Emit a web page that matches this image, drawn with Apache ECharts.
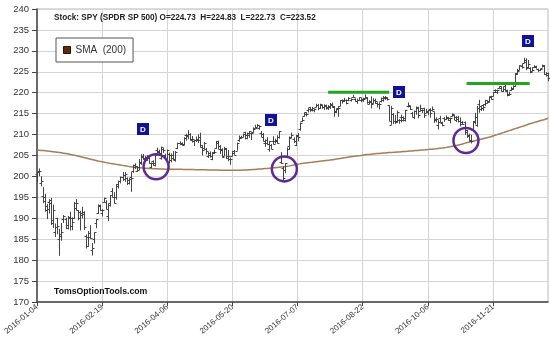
<!DOCTYPE html>
<html><head><meta charset="utf-8">
<script src="https://cdn.jsdelivr.net/npm/echarts@6/dist/echarts.min.js"></script>
<style>html,body{margin:0;padding:0;background:#fff}#c{width:550px;height:338px}</style>
</head><body><div id="c"></div>
<script>
const dates = [
"2016-01-04","2016-01-05","2016-01-06","2016-01-07","2016-01-08","2016-01-11","2016-01-12","2016-01-13","2016-01-14","2016-01-15","2016-01-19","2016-01-20","2016-01-21","2016-01-22","2016-01-25","2016-01-26","2016-01-27","2016-01-28","2016-01-29",
"2016-02-01","2016-02-02","2016-02-03","2016-02-04","2016-02-05","2016-02-08","2016-02-09","2016-02-10","2016-02-11","2016-02-12","2016-02-16","2016-02-17","2016-02-18","2016-02-19","2016-02-22","2016-02-23","2016-02-24","2016-02-25","2016-02-26","2016-02-29",
"2016-03-01","2016-03-02","2016-03-03","2016-03-04","2016-03-07","2016-03-08","2016-03-09","2016-03-10","2016-03-11","2016-03-14","2016-03-15","2016-03-16","2016-03-17","2016-03-18","2016-03-21","2016-03-22","2016-03-23","2016-03-24","2016-03-28","2016-03-29","2016-03-30","2016-03-31",
"2016-04-01","2016-04-04","2016-04-05","2016-04-06","2016-04-07","2016-04-08","2016-04-11","2016-04-12","2016-04-13","2016-04-14","2016-04-15","2016-04-18","2016-04-19","2016-04-20","2016-04-21","2016-04-22","2016-04-25","2016-04-26","2016-04-27","2016-04-28","2016-04-29",
"2016-05-02","2016-05-03","2016-05-04","2016-05-05","2016-05-06","2016-05-09","2016-05-10","2016-05-11","2016-05-12","2016-05-13","2016-05-16","2016-05-17","2016-05-18","2016-05-19","2016-05-20","2016-05-23","2016-05-24","2016-05-25","2016-05-26","2016-05-27","2016-05-31",
"2016-06-01","2016-06-02","2016-06-03","2016-06-06","2016-06-07","2016-06-08","2016-06-09","2016-06-10","2016-06-13","2016-06-14","2016-06-15","2016-06-16","2016-06-17","2016-06-20","2016-06-21","2016-06-22","2016-06-23","2016-06-24","2016-06-27","2016-06-28","2016-06-29","2016-06-30",
"2016-07-01","2016-07-05","2016-07-06","2016-07-07","2016-07-08","2016-07-11","2016-07-12","2016-07-13","2016-07-14","2016-07-15","2016-07-18","2016-07-19","2016-07-20","2016-07-21","2016-07-22","2016-07-25","2016-07-26","2016-07-27","2016-07-28","2016-07-29",
"2016-08-01","2016-08-02","2016-08-03","2016-08-04","2016-08-05","2016-08-08","2016-08-09","2016-08-10","2016-08-11","2016-08-12","2016-08-15","2016-08-16","2016-08-17","2016-08-18","2016-08-19","2016-08-22","2016-08-23","2016-08-24","2016-08-25","2016-08-26","2016-08-29","2016-08-30","2016-08-31",
"2016-09-01","2016-09-02","2016-09-06","2016-09-07","2016-09-08","2016-09-09","2016-09-12","2016-09-13","2016-09-14","2016-09-15","2016-09-16","2016-09-19","2016-09-20","2016-09-21","2016-09-22","2016-09-23","2016-09-26","2016-09-27","2016-09-28","2016-09-29","2016-09-30",
"2016-10-03","2016-10-04","2016-10-05","2016-10-06","2016-10-07","2016-10-10","2016-10-11","2016-10-12","2016-10-13","2016-10-14","2016-10-17","2016-10-18","2016-10-19","2016-10-20","2016-10-21","2016-10-24","2016-10-25","2016-10-26","2016-10-27","2016-10-28","2016-10-31",
"2016-11-01","2016-11-02","2016-11-03","2016-11-04","2016-11-07","2016-11-08","2016-11-09","2016-11-10","2016-11-11","2016-11-14","2016-11-15","2016-11-16","2016-11-17","2016-11-18","2016-11-21","2016-11-22","2016-11-23","2016-11-25","2016-11-28","2016-11-29","2016-11-30",
"2016-12-01","2016-12-02","2016-12-05","2016-12-06","2016-12-07","2016-12-08","2016-12-09","2016-12-12","2016-12-13","2016-12-14","2016-12-15","2016-12-16","2016-12-19","2016-12-20","2016-12-21","2016-12-22","2016-12-23","2016-12-27","2016-12-28","2016-12-29","2016-12-30"];

const opens = [
200.49,201.40,198.34,195.33,195.19,193.01,193.82,194.45,189.55,186.77,189.96,185.03,186.21,189.78,189.92,188.42,190.02,189.96,190.02,
192.53,191.96,191.41,190.71,190.99,185.77,183.36,186.41,182.34,184.96,188.77,191.16,193.20,191.17,193.87,194.00,190.63,193.73,196.57,195.11,
195.01,197.61,198.97,199.97,199.40,199.72,199.03,199.93,201.26,202.20,201.41,201.60,203.11,204.89,204.07,203.99,204.46,202.24,203.60,202.76,206.30,205.91,
204.35,206.64,205.06,204.26,205.38,205.15,205.17,204.23,206.79,207.92,207.81,207.51,209.87,209.68,210.09,208.78,208.37,208.82,208.69,208.73,206.98,
206.90,206.52,205.00,205.57,204.06,205.57,206.72,207.91,207.28,206.21,204.96,206.46,204.44,204.06,204.92,205.99,206.17,208.67,209.44,209.48,210.56,
209.12,209.92,210.30,210.56,211.52,211.91,211.51,210.49,209.36,208.02,208.61,206.55,207.61,208.54,208.42,208.65,209.41,203.43,201.97,201.48,204.67,207.17,
209.28,208.98,207.56,209.83,211.36,213.17,214.38,215.34,215.94,216.52,215.99,215.94,216.69,217.09,216.40,217.01,216.60,217.04,216.42,216.51,
217.19,216.65,215.48,216.31,216.89,218.26,218.20,218.32,218.26,218.31,218.87,218.61,218.09,218.34,218.31,218.27,218.85,218.80,217.40,217.92,217.44,218.26,217.61,
217.37,218.00,218.70,218.84,218.62,216.97,212.39,214.84,213.29,212.96,213.48,214.22,214.11,213.94,216.82,216.72,215.09,214.22,215.65,216.42,215.65,
215.82,216.23,215.23,215.45,216.07,215.87,215.52,213.67,212.40,214.06,212.87,214.06,213.74,214.04,213.41,214.54,214.68,213.51,214.16,213.35,212.93,
212.93,210.66,209.98,208.46,210.98,213.00,212.37,217.30,216.13,216.96,217.28,217.56,218.05,219.13,219.23,220.64,220.11,221.10,221.16,220.52,221.63,
220.73,219.67,220.65,221.22,221.52,224.57,225.41,226.40,227.02,227.41,226.16,226.01,225.25,226.15,226.25,225.60,225.43,226.02,226.57,224.48,224.73];

const highs = [
201.03,201.90,200.06,197.44,195.85,193.41,194.55,194.86,193.26,188.76,190.11,187.50,188.87,190.76,190.15,190.53,191.56,190.20,193.88,
194.58,191.97,191.78,192.75,191.67,186.12,186.94,188.34,184.10,186.65,189.81,193.32,193.27,192.18,194.95,194.32,193.53,195.55,197.22,196.23,
198.21,199.00,200.00,201.07,201.08,199.78,199.58,201.05,202.80,203.13,202.47,204.14,205.30,205.35,204.95,205.09,204.60,203.36,203.86,205.25,206.87,206.41,
207.14,206.84,205.42,206.43,205.70,205.48,206.04,206.06,208.06,208.36,208.13,209.39,210.20,211.05,210.32,209.65,208.75,209.53,210.06,210.45,207.44,
208.19,206.80,205.85,205.98,205.77,206.40,208.50,208.54,207.49,206.72,207.06,206.80,206.30,204.54,206.10,206.30,208.09,209.77,209.71,210.25,210.69,
210.48,210.86,210.52,211.73,212.34,212.52,212.21,210.86,210.37,208.87,209.36,208.49,207.75,209.60,208.99,209.83,210.87,205.80,202.40,203.22,206.93,209.55,
210.49,209.33,209.91,210.33,212.89,214.07,215.30,215.35,216.34,216.60,216.62,216.26,217.37,217.31,217.36,217.07,217.23,217.15,217.03,217.54,
217.65,216.83,216.25,216.78,218.23,218.40,218.76,218.40,218.94,218.66,219.50,218.68,218.59,218.90,218.75,218.80,219.60,218.91,218.19,219.12,218.67,218.59,217.75,
217.73,218.87,219.22,219.22,218.94,217.03,216.81,215.15,214.70,215.73,213.69,214.76,214.34,215.93,217.67,216.88,215.42,215.77,216.70,216.64,217.12,
216.03,216.41,216.14,215.85,216.30,216.72,215.53,214.13,213.45,214.45,213.04,214.17,214.56,214.20,214.07,215.07,214.76,214.40,214.48,214.11,213.24,
213.12,211.10,210.23,209.95,213.19,215.18,216.85,218.31,216.88,217.27,218.28,218.14,219.04,219.27,220.19,220.81,220.71,221.56,221.48,221.44,221.82,
220.73,220.25,221.40,221.74,224.67,225.70,226.53,226.96,228.34,228.23,227.81,226.08,226.02,226.57,226.45,225.74,225.72,226.73,226.59,224.89,224.83];

const lows = [
198.59,200.05,197.60,193.59,191.58,189.82,191.14,188.38,187.66,185.52,186.20,181.02,184.64,188.88,187.41,187.34,187.06,187.16,189.88,
191.84,189.54,187.10,189.96,187.20,182.80,183.20,185.12,181.09,183.96,187.63,191.01,191.72,190.45,193.79,192.18,189.32,192.83,195.09,193.56,
194.45,197.09,198.35,198.91,198.70,197.94,198.09,196.32,200.85,201.73,201.06,201.53,202.78,203.98,203.85,203.71,203.01,201.95,202.59,202.40,205.59,205.33,
203.98,205.60,203.90,203.83,203.07,203.35,203.91,203.55,206.52,207.44,207.35,207.46,208.54,208.88,208.53,208.09,207.26,208.21,208.00,206.91,205.02,
206.41,205.28,204.42,204.47,203.88,205.36,206.64,206.50,205.37,204.49,204.89,204.23,203.63,202.78,204.86,205.17,206.14,208.27,208.97,209.35,208.86,
208.89,209.24,208.70,210.45,211.50,211.75,211.17,209.43,208.35,207.06,207.53,205.91,206.50,207.66,207.84,207.87,209.06,202.96,198.65,200.77,204.55,206.34,
209.15,207.97,207.23,208.39,210.90,213.00,214.31,214.33,215.29,215.44,215.53,215.33,216.45,215.84,216.08,216.15,215.88,215.95,215.89,216.13,
216.41,214.25,215.13,214.25,216.78,217.42,217.80,217.23,217.95,217.88,218.88,217.96,217.35,218.21,217.74,217.83,218.60,217.36,217.22,216.25,217.40,217.35,216.47,
216.03,217.70,217.87,218.30,218.15,213.25,212.31,212.50,212.50,212.75,212.57,212.90,213.13,213.12,216.47,215.88,214.23,213.69,214.76,213.88,215.51,
215.14,213.97,215.12,214.63,214.04,215.72,212.78,212.91,211.21,212.97,211.99,213.03,213.51,213.24,212.71,214.27,213.48,212.99,212.88,211.94,212.44,
209.90,209.23,208.42,207.89,210.73,212.43,211.86,215.22,215.64,215.72,216.80,217.42,217.67,218.38,219.13,219.91,219.71,221.01,220.36,220.17,220.31,
219.15,219.26,220.42,220.66,221.38,224.26,225.37,225.76,227.00,225.37,225.89,224.67,225.08,225.88,225.77,224.92,225.21,226.00,224.27,223.84,222.73];

const closes = [
201.02,201.36,198.82,194.05,191.92,192.11,193.66,188.83,191.93,187.81,188.06,185.65,186.69,190.52,187.64,190.20,188.13,189.11,193.72,
193.65,190.16,191.30,191.60,187.95,185.42,185.43,185.27,182.86,186.63,189.78,192.88,192.09,192.00,194.78,192.32,193.20,195.54,195.09,193.56,
198.11,199.00,199.78,200.43,200.59,198.40,199.38,199.54,202.76,202.50,202.17,203.34,204.63,204.38,204.67,204.56,203.21,203.12,203.24,205.12,206.02,205.52,
206.92,206.25,204.19,206.42,203.95,204.50,204.02,205.92,208.00,208.01,207.78,209.24,209.90,210.10,208.97,208.97,208.61,208.92,209.35,207.45,206.33,
207.97,206.16,205.01,204.97,205.72,205.89,208.45,206.50,206.56,204.76,206.78,204.85,204.91,204.20,205.49,205.21,207.87,209.28,209.34,210.24,209.84,
210.27,210.91,210.28,211.35,211.68,212.37,212.08,210.07,208.45,208.04,207.75,208.37,206.52,207.85,208.44,208.10,210.81,203.24,199.60,203.20,206.66,209.48,
209.92,208.41,209.66,209.53,212.65,213.40,214.95,214.92,216.12,215.83,216.41,216.19,217.09,216.27,217.24,216.65,216.75,216.52,216.77,217.12,
216.94,215.55,216.18,216.41,218.18,218.05,218.18,217.64,218.65,218.46,219.09,217.96,218.37,218.86,218.54,218.53,218.97,217.85,217.70,217.29,218.36,218.00,217.38,
217.39,218.37,219.03,219.01,218.51,213.28,216.34,213.23,213.15,215.28,213.37,213.41,213.42,215.82,217.18,215.99,214.24,215.57,216.64,214.68,216.30,
215.78,214.68,215.63,215.78,215.04,216.16,213.43,213.71,213.01,213.12,212.38,213.71,214.28,213.88,213.98,214.89,214.17,213.74,213.17,212.54,212.55,
211.01,209.74,208.78,208.55,213.15,214.11,216.38,216.92,216.42,216.59,218.28,217.87,218.99,218.50,220.15,220.58,220.70,221.52,220.48,220.91,220.38,
219.57,219.68,221.00,221.70,224.60,225.15,226.51,226.25,227.76,225.88,226.81,225.04,225.53,226.40,225.77,225.38,225.71,226.27,224.40,224.35,223.52];

const sma200 = [
206.30,206.26,206.22,206.18,206.14,206.10,206.04,205.98,205.92,205.86,
205.80,205.72,205.64,205.56,205.48,205.40,205.30,205.20,205.10,205.00,
204.90,204.78,204.66,204.54,204.42,204.30,204.18,204.06,203.94,203.82,
203.70,203.60,203.50,203.40,203.30,203.20,203.12,203.04,202.96,202.88,
202.80,202.72,202.64,202.56,202.48,202.40,202.34,202.28,202.22,202.16,
202.10,202.06,202.02,201.98,201.94,201.90,201.88,201.86,201.84,201.82,
201.80,201.78,201.76,201.74,201.72,201.70,201.70,201.70,201.70,201.70,
201.70,201.69,201.68,201.67,201.66,201.65,201.64,201.63,201.62,201.61,
201.60,201.59,201.58,201.57,201.56,201.55,201.54,201.53,201.52,201.51,
201.50,201.50,201.50,201.50,201.50,201.50,201.50,201.50,201.50,201.50,
201.50,201.52,201.54,201.56,201.58,201.60,201.64,201.68,201.72,201.76,
201.80,201.84,201.88,201.92,201.96,202.00,202.05,202.10,202.15,202.20,
202.25,202.30,202.37,202.45,202.52,202.60,202.70,202.80,202.90,203.00,
203.07,203.14,203.21,203.28,203.35,203.40,203.46,203.52,203.58,203.64,
203.70,203.75,203.80,203.85,203.90,203.98,204.06,204.14,204.22,204.30,
204.38,204.46,204.54,204.62,204.70,204.76,204.82,204.88,204.94,205.00,
205.08,205.16,205.22,205.26,205.30,205.35,205.40,205.45,205.50,205.55,
205.59,205.62,205.66,205.70,205.73,205.76,205.80,205.83,205.86,205.90,
205.94,205.98,206.02,206.06,206.10,206.14,206.18,206.22,206.26,206.30,
206.34,206.38,206.42,206.47,206.52,206.57,206.62,206.68,206.74,206.80,
206.87,206.94,207.02,207.10,207.20,207.30,207.40,207.52,207.64,207.77,
207.90,208.03,208.16,208.30,208.42,208.54,208.66,208.78,208.90,209.02,
209.14,209.26,209.38,209.50,209.66,209.82,209.98,210.14,210.30,210.46,
210.62,210.78,210.94,211.10,211.26,211.42,211.58,211.74,211.90,212.06,
212.22,212.40,212.58,212.72,212.86,213.00,213.14,213.28,213.42,213.56,
213.72,213.88];

const yTicks = {min: 170, max: 240, step: 5};
// annotations: [category index, fraction toward next, value]
const dSignals = [[52, 0, 211.3], [115, 0, 213.6], [178, 0, 220.1], [241, 0, 232.4]];
const circles = [[58, 0.5, 202.3], [121, 0.5, 201.8], [210, 0.7, 208.6]];
const resistance = [[143, 173, 220.1], [211, 242, 222.2]];
const titleText = 'Stock: SPY (SPDR SP 500) O=224.73  H=224.83  L=222.73  C=223.52';

const FONT = '"Liberation Sans", Arial, sans-serif';
const ohlc = dates.map((d, i) => [i, opens[i], highs[i], lows[i], closes[i]]);

function pt(api, i, frac, v) {
  const a = api.coord([i, v]);
  if (!frac) return a;
  const b = api.coord([i + 1, v]);
  return [a[0] + (b[0] - a[0]) * frac, a[1]];
}

const chart = echarts.init(document.getElementById('c'), null, {renderer: 'canvas'});
chart.setOption({
  animation: false,
  backgroundColor: '#fff',
  grid: {left: 37, right: 2, top: 9, bottom: 36, outerBoundsMode: 'none', containLabel: false,
         show: true, borderColor: '#b8b8b8', borderWidth: 1},
  legend: {
    left: 56, top: 38, padding: [7, 7, 7, 7], borderColor: '#555', borderWidth: 1, backgroundColor: '#fff',
    itemWidth: 7, itemHeight: 7, textStyle: {fontSize: 10, color: '#333', fontFamily: FONT},
    data: [{name: 'SMA  (200)', icon: 'rect', itemStyle: {color: '#5a2c0c', borderColor: '#2a1200', borderWidth: 1}}]
  },
  xAxis: {
    type: 'category', data: dates, boundaryGap: false,
    axisLine: {lineStyle: {color: '#444', width: 1.5}},
    axisTick: {interval: 31, length: 4, lineStyle: {color: '#444'}},
    axisLabel: {interval: 31, rotate: 40, fontSize: 8, color: '#333', margin: 4, fontFamily: FONT},
    splitLine: {show: true, interval: 31, lineStyle: {color: '#d4d4d4', width: 1}}
  },
  yAxis: {
    type: 'value', min: yTicks.min, max: yTicks.max, interval: yTicks.step,
    name: 'Stock', nameLocation: 'middle', nameGap: 24,
    nameTextStyle: {fontSize: 10, fontWeight: 'bold', color: '#333', fontFamily: FONT},
    axisLine: {show: true, lineStyle: {color: '#444', width: 1.5}},
    axisTick: {show: true, length: 5, lineStyle: {color: '#444'}},
    axisLabel: {fontSize: 9.5, color: '#333', margin: 8, fontFamily: FONT},
    splitLine: {lineStyle: {color: '#d4d4d4', width: 1}}
  },
  graphic: [
    {type: 'text', silent: true, z: 100,
     style: {text: titleText, x: 54, y: 17.5, verticalAlign: 'middle', font: 'bold 8.2px ' + FONT, fill: '#222'}},
    {type: 'text', silent: true, z: 100,
     style: {text: 'TomsOptionTools.com', x: 54, y: 292, verticalAlign: 'middle', font: 'bold 8.7px ' + FONT, fill: '#111'}}
  ],
  series: [
    {
      name: 'SMA  (200)', type: 'line', data: sma200, showSymbol: false, symbol: 'none',
      lineStyle: {color: '#a97c55', width: 1.5}, itemStyle: {color: '#5a2c0c'}, z: 2
    },
    {
      name: 'SPY', type: 'custom', data: ohlc, encode: {x: 0, y: [1, 2, 3, 4]}, z: 3,
      renderItem: function (params, api) {
        const i = api.value(0);
        const o = api.coord([i, api.value(1)]);
        const h = api.coord([i, api.value(2)]);
        const l = api.coord([i, api.value(3)]);
        const c = api.coord([i, api.value(4)]);
        const x = Math.round(h[0]) + 0.5;
        const st = {stroke: '#444', lineWidth: 1};
        return {type: 'group', children: [
          {type: 'line', shape: {x1: x, y1: h[1], x2: x, y2: l[1]}, style: st},
          {type: 'line', shape: {x1: x - 2, y1: Math.round(o[1]) + 0.5, x2: x, y2: Math.round(o[1]) + 0.5}, style: st},
          {type: 'line', shape: {x1: x, y1: Math.round(c[1]) + 0.5, x2: x + 2, y2: Math.round(c[1]) + 0.5}, style: st}
        ]};
      }
    },
    {
      name: 'resistance', type: 'custom', data: resistance, encode: {x: 0, y: 2}, z: 5,
      renderItem: function (params, api) {
        const a = api.coord([api.value(0), api.value(2)]);
        const b = api.coord([api.value(1), api.value(2)]);
        return {type: 'line', shape: {x1: a[0], y1: a[1], x2: b[0], y2: b[1]}, style: {stroke: '#21a324', lineWidth: 3}};
      }
    },
    {
      name: 'circles', type: 'custom', data: circles, encode: {x: 0, y: 2}, z: 6,
      renderItem: function (params, api) {
        const p = pt(api, api.value(0), api.value(1), api.value(2));
        return {type: 'circle', shape: {cx: p[0], cy: p[1], r: 12.5}, style: {fill: 'none', stroke: '#5e2a91', lineWidth: 2.5}};
      }
    },
    {
      name: 'signals', type: 'custom', data: dSignals, encode: {x: 0, y: 2}, z: 7,
      renderItem: function (params, api) {
        const p = pt(api, api.value(0), api.value(1), api.value(2));
        return {type: 'group', children: [
          {type: 'rect', shape: {x: Math.round(p[0]) - 6, y: Math.round(p[1]) - 6, width: 12, height: 12}, style: {fill: '#11119a'}},
          {type: 'text', style: {text: 'D', x: Math.round(p[0]), y: Math.round(p[1]) + 0.5, align: 'center', verticalAlign: 'middle', font: 'bold 8px "Liberation Sans"', fill: '#fff'}}
        ]};
      }
    }
  ]
});
</script>
</body></html>
